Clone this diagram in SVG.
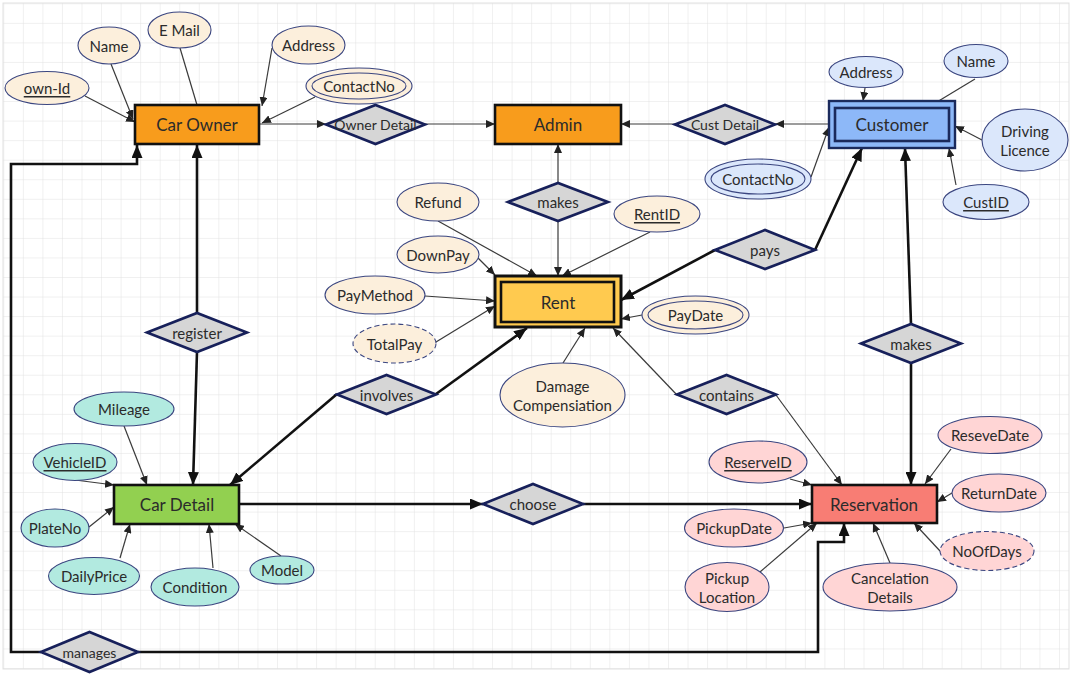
<svg xmlns="http://www.w3.org/2000/svg" width="1080" height="677" viewBox="0 0 1080 677">
<defs>
<pattern id="grid" patternUnits="userSpaceOnUse" x="3.3" y="3.3" width="19.55" height="19.55">
<path d="M19.55 0 L0 0 0 19.55" fill="none" stroke="#E1E1E1" stroke-width="1"/>
</pattern>
<marker id="a" markerUnits="userSpaceOnUse" markerWidth="9" markerHeight="8" refX="9" refY="4" orient="auto"><path d="M0,0 L9,4 L0,8 z" fill="#222"/></marker>
<marker id="A" markerUnits="userSpaceOnUse" markerWidth="13" markerHeight="11" refX="13" refY="5.5" orient="auto"><path d="M0,0 L13,5.5 L0,11 z" fill="#111"/></marker>
<style>
text{font-family:Lato,"Open Sans","Liberation Sans",sans-serif;fill:#2b2b2b;text-anchor:middle;dominant-baseline:central}
.ent{font-size:17px}
.att{font-size:15px}
.rel{font-size:15px}
.sm{font-size:14px}
.u{text-decoration:underline}
.thin{fill:none;stroke:#3a3a3a;stroke-width:1.2;marker-end:url(#a)}
.thick{fill:none;stroke:#111;stroke-width:2.6;marker-end:url(#A)}
.dia{fill:#D6D6D6;stroke:#17205A;stroke-width:2.6}
.box{stroke:#111;stroke-width:2.6}
.co{fill:#FCEFDC;stroke:#3B4680;stroke-width:1.1}
.cu{fill:#DBE7FB;stroke:#3B4680;stroke-width:1.1}
.cd{fill:#B2EAE0;stroke:#3B4680;stroke-width:1.1}
.re{fill:#FFD5D5;stroke:#3B4680;stroke-width:1.1}
.dash{stroke-dasharray:5 3}
</style>
</defs>
<rect x="0" y="0" width="1080" height="677" fill="#fff"/>
<rect x="3" y="3" width="1066" height="666" fill="url(#grid)" stroke="#E1E1E1"/>

<g id="connectors">
<path class="thin" d="M85,96 L135,122"/>
<path class="thin" d="M111,64 L133,119"/>
<path fill="none" stroke="#3a3a3a" stroke-width="1.2" d="M180,48 L197,105"/>
<path class="thin" d="M272,48 L262,106"/>
<path class="thin" d="M315,97 L262,123"/>
<path class="thin" d="M259,124 L326,124"/>
<path class="thin" d="M425,124 L495,124"/>
<path class="thin" d="M829,124 L775,124"/>
<path class="thin" d="M675,124 L621,124"/>
<path class="thin" d="M558,183 L558,144"/>
<path class="thin" d="M558,221 L558,276"/>
<path class="thin" d="M438,221 L537,276"/>
<path class="thin" d="M478,258 L495,275"/>
<path class="thin" d="M425,296 L495,301"/>
<path class="thin" d="M436,342 L495,306"/>
<path class="thin" d="M650,232 L562,276"/>
<path class="thin" d="M642,315 L621,319"/>
<path class="thin" d="M563,363 L585,328"/>
<path class="thin" d="M677,395 L613,328"/>
<path class="thin" d="M776,395 L842,485"/>
<path class="thin" d="M865,88 L863,101"/>
<path class="thin" d="M975,79 L927,108"/>
<path class="thin" d="M982,140 L955,126"/>
<path class="thin" d="M956,185 L949,148"/>
<path class="thin" d="M811,177 L829,127"/>
<path class="thin" d="M790,479 L812,485"/>
<path class="thin" d="M951,449 L925,484"/>
<path class="thin" d="M952,493 L937,502"/>
<path class="thin" d="M940,551 L914,523"/>
<path class="thin" d="M890,563 L873,523"/>
<path class="thin" d="M784,528 L812,523"/>
<path class="thin" d="M760,572 L817,523"/>
<path class="thin" d="M124,426 L147,485"/>
<path class="thin" d="M75,480 L114,485"/>
<path class="thin" d="M89,527 L114,507"/>
<path class="thin" d="M120,558 L130,524"/>
<path class="thin" d="M213,568 L209,524"/>
<path class="thin" d="M281,556 L235,524"/>

<path class="thick" d="M197,313 L197,145"/>
<path class="thick" d="M197,352 L193,485"/>
<path class="thick" d="M436,394 L527,328"/>
<path class="thick" d="M337,394 L230,485"/>
<path class="thick" d="M239,504 L483,504"/>
<path class="thick" d="M583,504 L812,504"/>
<path class="thick" d="M815,250 L862,148"/>
<path class="thick" d="M715,250 L621,300"/>
<path class="thick" d="M911,324 L905,148"/>
<path class="thick" d="M911,363 L911,485"/>
<path class="thick" d="M41,652 L11,652 L11,164 L137,164 L137,145"/>
<path class="thick" d="M138,652 L818,652 L818,542 L844,542 L844,523"/>
</g>

<g id="car-owner"><rect class="box" x="135" y="105" width="124" height="39" fill="#F89C1C"/><text class="ent" x="197" y="124.5">Car Owner</text></g>
<g id="admin"><rect class="box" x="495" y="105" width="126" height="39" fill="#F89C1C"/><text class="ent" x="558" y="124.5">Admin</text></g>
<g id="customer"><rect x="829" y="101" width="126" height="47" fill="#8DB8F8" stroke="#1B2A5C" stroke-width="2.4"/><rect x="835" y="108" width="114" height="33" fill="none" stroke="#1B2A5C" stroke-width="2.6"/><text class="ent" x="892" y="124.5">Customer</text></g>
<g id="rent"><rect x="495" y="276" width="126" height="51" fill="#FFCA4F" stroke="#111" stroke-width="3"/><rect x="501" y="282" width="113" height="40" fill="none" stroke="#111" stroke-width="2.6"/><text class="ent" x="558" y="302">Rent</text></g>
<g id="car-detail"><rect class="box" x="114" y="485" width="125" height="39" fill="#92D050"/><text class="ent" x="177" y="504.5">Car Detail</text></g>
<g id="reservation"><rect class="box" x="812" y="485" width="125" height="38" fill="#F87D74"/><text class="ent" x="874" y="504">Reservation</text></g>

<g id="owner-detail"><path class="dia" d="M326,124.5 L375.5,105 L425,124.5 L375.5,144 z"/><text class="sm" x="375.5" y="124.5">Owner Detail</text></g>
<g id="cust-detail"><path class="dia" d="M675,124.5 L725,105 L775,124.5 L725,144 z"/><text class="sm" x="725" y="124.5">Cust Detail</text></g>
<g id="makes-admin"><path class="dia" d="M508,202 L558,183 L608,202 L558,221 z"/><text class="rel" x="558" y="202">makes</text></g>
<g id="register"><path class="dia" d="M147,332.5 L197,313 L247,332.5 L197,352 z"/><text class="rel" x="197" y="332.5">register</text></g>
<g id="involves"><path class="dia" d="M337,394.5 L386.5,375 L436,394.5 L386.5,414 z"/><text class="rel" x="386.5" y="394.5">involves</text></g>
<g id="pays"><path class="dia" d="M715,250 L765,230 L815,250 L765,269 z"/><text class="rel" x="765" y="250">pays</text></g>
<g id="contains"><path class="dia" d="M677,394.5 L726.5,375 L776,394.5 L726.5,414 z"/><text class="rel" x="726.5" y="394.5">contains</text></g>
<g id="makes-reservation"><path class="dia" d="M861,343.5 L911,324 L961,343.5 L911,363 z"/><text class="rel" x="911" y="343.5">makes</text></g>
<g id="choose"><path class="dia" d="M483,504 L533,484 L583,504 L533,524 z"/><text class="rel" x="533" y="504">choose</text></g>
<g id="manages"><path class="dia" d="M41,652 L89.5,632 L138,652 L89.5,672 z"/><text class="sm" x="89.5" y="652">manages</text></g>

<g id="own-id"><ellipse class="co" cx="47" cy="88" rx="42" ry="16.5"/><text class="att u" x="47" y="88">own-Id</text></g>
<g id="owner-name"><ellipse class="co" cx="109" cy="45.5" rx="31" ry="18.5"/><text class="att" x="109" y="45.5">Name</text></g>
<g id="owner-email"><ellipse class="co" cx="179.5" cy="30" rx="31.5" ry="18"/><text class="att" x="179.5" y="30">E Mail</text></g>
<g id="owner-address"><ellipse class="co" cx="308.5" cy="45" rx="36.5" ry="19"/><text class="att" x="308.5" y="45">Address</text></g>
<g id="owner-contact"><ellipse class="co" cx="359" cy="86" rx="53" ry="18"/><ellipse cx="359" cy="86" rx="47" ry="13" fill="none" stroke="#3B4680" stroke-width="1.1"/><text class="att" x="359" y="86">ContactNo</text></g>

<g id="cust-address"><ellipse class="cu" cx="866" cy="72" rx="37" ry="15.5"/><text class="att" x="866" y="72">Address</text></g>
<g id="cust-name"><ellipse class="cu" cx="976" cy="61" rx="32" ry="16.5"/><text class="att" x="976" y="61">Name</text></g>
<g id="cust-licence"><ellipse class="cu" cx="1025" cy="140" rx="43" ry="31"/><text class="att" x="1025" y="131">Driving</text><text class="att" x="1025" y="150">Licence</text></g>
<g id="cust-id"><ellipse class="cu" cx="986" cy="202" rx="43" ry="17.5"/><text class="att u" x="986" y="202">CustID</text></g>
<g id="cust-contact"><ellipse class="cu" cx="758" cy="179" rx="53" ry="20"/><ellipse cx="758" cy="179" rx="47" ry="15" fill="none" stroke="#3B4680" stroke-width="1.1"/><text class="att" x="758" y="179">ContactNo</text></g>

<g id="refund"><ellipse class="co" cx="438" cy="202" rx="41" ry="19"/><text class="att" x="438" y="202">Refund</text></g>
<g id="downpay"><ellipse class="co" cx="438" cy="254.5" rx="41" ry="18.5"/><text class="att" x="438" y="254.5">DownPay</text></g>
<g id="paymethod"><ellipse class="co" cx="375" cy="295" rx="50" ry="19"/><text class="att" x="375" y="295">PayMethod</text></g>
<g id="totalpay"><ellipse class="co dash" cx="394.5" cy="343.5" rx="41.5" ry="19.5"/><text class="att" x="394.5" y="343.5">TotalPay</text></g>
<g id="rentid"><ellipse class="co" cx="657" cy="214" rx="43" ry="18"/><text class="att u" x="657" y="214">RentID</text></g>
<g id="paydate"><ellipse class="co" cx="695.5" cy="315" rx="53.5" ry="19"/><ellipse cx="695.5" cy="315" rx="47.5" ry="14" fill="none" stroke="#3B4680" stroke-width="1.1"/><text class="att" x="695.5" y="315">PayDate</text></g>
<g id="damage"><ellipse class="co" cx="562.5" cy="395" rx="62.5" ry="32"/><text class="att" x="562.5" y="386">Damage</text><text class="att" x="562.5" y="405">Compensiation</text></g>

<g id="mileage"><ellipse class="cd" cx="124" cy="409" rx="50" ry="17"/><text class="att" x="124" y="409">Mileage</text></g>
<g id="vehicleid"><ellipse class="cd" cx="75" cy="462" rx="42" ry="18.5"/><text class="att u" x="75" y="462">VehicleID</text></g>
<g id="plateno"><ellipse class="cd" cx="55" cy="528" rx="34" ry="19"/><text class="att" x="55" y="528">PlateNo</text></g>
<g id="dailyprice"><ellipse class="cd" cx="94" cy="576" rx="45.5" ry="18.5"/><text class="att" x="94" y="576">DailyPrice</text></g>
<g id="condition"><ellipse class="cd" cx="195" cy="587" rx="44" ry="19"/><text class="att" x="195" y="587">Condition</text></g>
<g id="model"><ellipse class="cd" cx="282" cy="570" rx="32" ry="14"/><text class="att" x="282" y="570">Model</text></g>

<g id="reserveid"><ellipse class="re" cx="758" cy="462" rx="49" ry="21"/><text class="att u" x="758" y="462">ReserveID</text></g>
<g id="resevedate"><ellipse class="re" cx="990" cy="435" rx="52" ry="18.5"/><text class="att" x="990" y="435">ReseveDate</text></g>
<g id="returndate"><ellipse class="re" cx="999" cy="493" rx="47" ry="19"/><text class="att" x="999" y="493">ReturnDate</text></g>
<g id="noofdays"><ellipse class="re dash" cx="987" cy="551" rx="47" ry="19.5"/><text class="att" x="987" y="551">NoOfDays</text></g>
<g id="cancelation"><ellipse class="re" cx="890" cy="587" rx="67" ry="24"/><text class="att" x="890" y="578">Cancelation</text><text class="att" x="890" y="597">Details</text></g>
<g id="pickupdate"><ellipse class="re" cx="734" cy="528" rx="49.5" ry="19"/><text class="att" x="734" y="528">PickupDate</text></g>
<g id="pickuplocation"><ellipse class="re" cx="727" cy="587" rx="42" ry="24.5"/><text class="att" x="727" y="578">Pickup</text><text class="att" x="727" y="597">Location</text></g>
</svg>
